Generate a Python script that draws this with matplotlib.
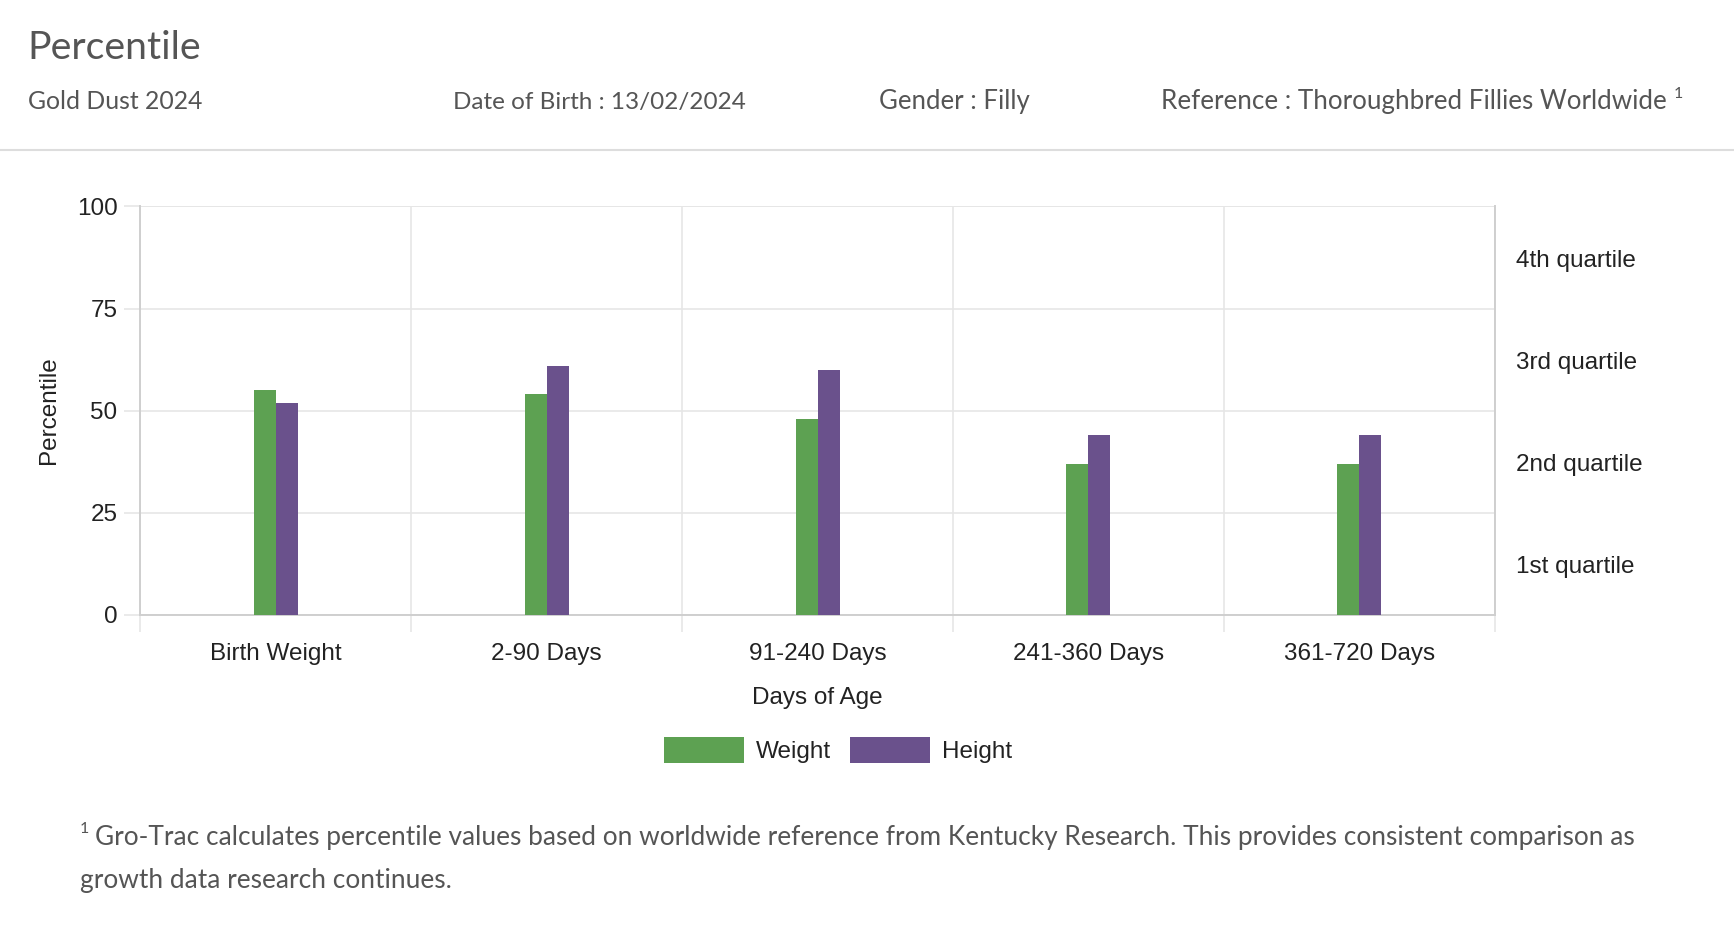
import numpy as np
import matplotlib
matplotlib.use('Agg')
import matplotlib.pyplot as plt
from matplotlib.lines import Line2D
from matplotlib.patches import Patch
from matplotlib.transforms import blended_transform_factory

categories = ['Birth Weight', '2-90 Days', '91-240 Days', '241-360 Days', '361-720 Days']
weight = [55, 54, 48, 37, 37]
height = [52, 61, 60, 44, 44]
yticks = [0, 25, 50, 75, 100]
quartiles = ['1st quartile', '2nd quartile', '3rd quartile', '4th quartile']
quartile_pos = [12.5, 37.5, 62.5, 87.5]

green = '#5da152'
purple = '#6a518c'
grid_c = '#e6e6e6'
axis_c = '#cfcfcf'
txt = '#222222'
head = '#555555'
chart_font = 'Liberation Sans'
page_font = 'Lato'
fs = 17.5

fig = plt.figure(figsize=(17.34, 9.26), dpi=100)
ax = fig.add_axes([0.081, 0.336, 0.781, 0.441])

x = np.arange(len(categories))
w = 0.081
ax.bar(x - w / 2, weight, w, color=green, label='Weight', zorder=3)
ax.bar(x + w / 2, height, w, color=purple, label='Height', zorder=3)

ax.set_xlim(-0.5, len(categories) - 0.5)
ax.set_ylim(0, 100)
ax.set_yticks(yticks)
ax.set_yticklabels([str(v) for v in yticks], fontsize=fs, color=txt, family=chart_font)
ax.set_xticks(x)
ax.set_xticklabels(categories, fontsize=fs, color=txt, family=chart_font)
ax.set_xticks(np.arange(len(categories) + 1) - 0.5, minor=True)

ax.tick_params(axis='x', which='major', length=0, pad=20)
ax.tick_params(axis='x', which='minor', length=12, width=1.2, color=grid_c)
ax.tick_params(axis='y', which='major', length=11.5, width=1.2, color=grid_c, pad=5)

ax.grid(True, axis='y', which='major', color=grid_c, lw=1.2, zorder=0)
ax.grid(True, axis='x', which='minor', color=grid_c, lw=1.2, zorder=0)
ax.grid(False, axis='x', which='major')

for s in ['left', 'bottom', 'right']:
    ax.spines[s].set_color(axis_c)
    ax.spines[s].set_linewidth(1.4)
ax.spines['top'].set_visible(False)
ax.axhline(100, color=grid_c, lw=1.2, zorder=0)

tr = blended_transform_factory(ax.transAxes, ax.transData)
for q, p in zip(quartiles, quartile_pos):
    ax.text(1.016, p - 0.9, q, transform=tr, va='center', ha='left', fontsize=fs,
            color=txt, family=chart_font)

fig.text(0.028, 0.557, 'Percentile', rotation=90, va='center', ha='center',
         fontsize=fs, color=txt, family=chart_font)
fig.text(0.4715, 0.2465, 'Days of Age', va='center', ha='center',
         fontsize=fs, color=txt, family=chart_font)

handles = [Patch(facecolor=green, label='Weight'), Patch(facecolor=purple, label='Height')]
fig.legend(handles=handles, loc='center', bbox_to_anchor=(0.4834, 0.19), ncol=2,
           frameon=False, handlelength=3.27, handleheight=1.25, handletextpad=0.5,
           columnspacing=0.8, borderpad=0,
           prop={'family': chart_font, 'size': fs})
for t in fig.legends[0].get_texts():
    t.set_color(txt)

# header
fig.text(0.016, 0.936, 'Percentile', fontsize=28.3, color=head, family=page_font, va='baseline')
sub_y = 0.882
fig.text(0.016, sub_y, 'Gold Dust 2024', fontsize=17.8, color=head, family=page_font, va='baseline')
fig.text(0.261, sub_y, 'Date of Birth : 13/02/2024', fontsize=17.5, color=head, family=page_font, va='baseline')
fig.text(0.507, sub_y, 'Gender : Filly', fontsize=18.5, color=head, family=page_font, va='baseline')
fig.text(0.6695, sub_y, 'Reference : Thoroughbred Fillies Worldwide', fontsize=18.7, color=head,
         family=page_font, va='baseline')
fig.text(0.9655, sub_y + 0.012, '1', fontsize=11.5, color=head, family=page_font, va='baseline')
fig.add_artist(Line2D([0, 1], [0.838, 0.838], color='#dddddd', lw=1.5, transform=fig.transFigure))

# footnote
fig.text(0.046, 0.0875 + 0.013, '1', fontsize=11.5, color=head, family=page_font, va='baseline')
fig.text(0.0548, 0.0875, 'Gro-Trac calculates percentile values based on worldwide reference from '
         'Kentucky Research. This provides consistent comparison as',
         fontsize=18.9, color=head, family=page_font, va='baseline')
fig.text(0.046, 0.041, 'growth data research continues.', fontsize=18.9, color=head,
         family=page_font, va='baseline')

fig.savefig('out.png', dpi=100, facecolor='white')
